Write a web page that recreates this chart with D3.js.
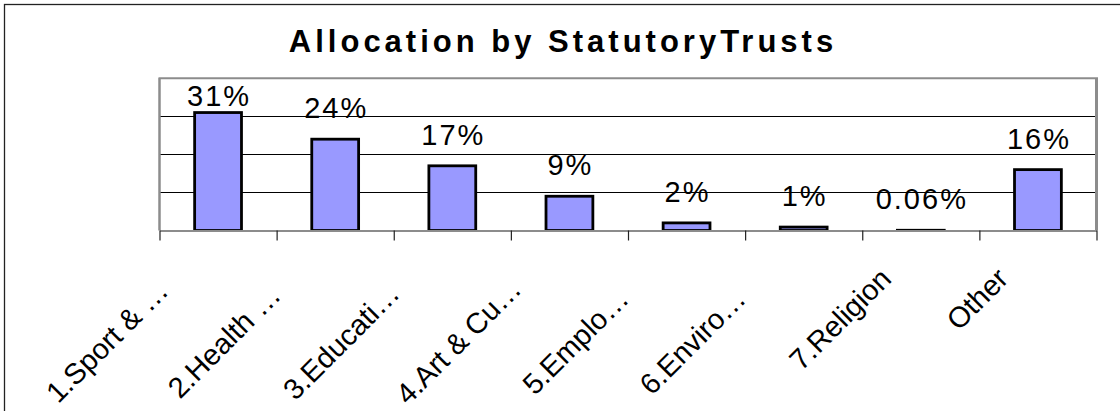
<!DOCTYPE html>
<html>
<head>
<meta charset="utf-8">
<script src="https://cdn.jsdelivr.net/npm/d3@7"></script>
<style>
  body { margin: 0; background: #fff; }
  svg { display: block; font-family: "Liberation Sans", Arial, sans-serif; }
</style>
</head>
<body>
<svg id="chart"></svg>
<script>
// chart data
const categories = ["1.Sport & …", "2.Health …", "3.Educati…", "4.Art & Cu…", "5.Emplo…", "6.Enviro…", "7.Religion", "Other"];
const values = [31, 24, 17, 9, 2, 0.9, 0.06, 16];
const valueLabels = ["31%", "24%", "17%", "9%", "2%", "1%", "0.06%", "16%"];
const yTicks = [0, 10, 20, 30, 40];

const width = 1120, height = 411;
const plot = { left: 159.5, right: 1096.5, top: 78.3, bottom: 230.5 };

const svg = d3.select("#chart")
    .attr("width", width)
    .attr("height", height);

// outer frame (right and bottom edges fall outside the picture)
svg.append("rect")
    .attr("x", 4.5)
    .attr("y", 4.5)
    .attr("width", width + 10)
    .attr("height", height + 10)
    .attr("fill", "none")
    .attr("stroke", "#222")
    .attr("stroke-width", 1.3);

// title
svg.append("text")
    .attr("x", 563)
    .attr("y", 52)
    .attr("text-anchor", "middle")
    .attr("font-size", 31)
    .attr("font-weight", "bold")
    .attr("letter-spacing", 4)
    .text("Allocation by StatutoryTrusts");

const x = d3.scaleBand()
    .domain(categories)
    .range([plot.left, plot.right])
    .paddingInner(0.6)
    .paddingOuter(0.3);

const y = d3.scaleLinear()
    .domain([0, 40])
    .range([plot.bottom, plot.top]);

// gridlines
svg.append("g")
    .selectAll("line")
    .data(yTicks.filter(d => d > 0 && d < 40))
    .enter().append("line")
    .attr("x1", plot.left)
    .attr("x2", plot.right)
    .attr("y1", d => Math.round(y(d)) + 0.5)
    .attr("y2", d => Math.round(y(d)) + 0.5)
    .attr("stroke", "#000")
    .attr("stroke-width", 1);

// plot border: top, left, right in grey
const border = svg.append("g")
    .attr("stroke", "#8c8c8c")
    .attr("fill", "none");
border.append("line")
    .attr("x1", plot.left - 1).attr("x2", plot.right + 1.5)
    .attr("y1", plot.top).attr("y2", plot.top)
    .attr("stroke-width", 2);
border.append("line")
    .attr("x1", plot.left).attr("x2", plot.left)
    .attr("y1", plot.top).attr("y2", plot.bottom)
    .attr("stroke-width", 2.5);
border.append("line")
    .attr("x1", plot.right).attr("x2", plot.right)
    .attr("y1", plot.top).attr("y2", plot.bottom)
    .attr("stroke-width", 3);

// bars
svg.append("g")
    .selectAll("rect")
    .data(values)
    .enter().append("rect")
    .attr("x", (d, i) => x(categories[i]))
    .attr("y", d => y(d))
    .attr("width", x.bandwidth())
    .attr("height", d => plot.bottom - y(d))
    .attr("fill", "#9999ff")
    .attr("stroke", "#000")
    .attr("stroke-width", 2.8);

// category axis, ticks sit between categories
const edgeScale = d3.scaleLinear()
    .domain([0, categories.length])
    .range([plot.left, plot.right]);

const xAxis = svg.append("g")
    .attr("transform", `translate(0,${plot.bottom})`)
    .call(d3.axisBottom(edgeScale)
        .ticks(categories.length)
        .tickSize(10)
        .tickSizeOuter(0)
        .tickFormat(""));
xAxis.select(".domain").attr("stroke", "#8c8c8c").attr("stroke-width", 2);
xAxis.selectAll(".tick line").attr("stroke", "#222").attr("stroke-width", 1.2);

// category labels, rotated; truncated ones are centred in their box,
// full ones are right-aligned under the category
const truncated = d => d.endsWith("…");
svg.append("g")
    .selectAll("text")
    .data(categories)
    .enter().append("text")
    .attr("transform", d => {
        const cx = x(d) + x.bandwidth() / 2;
        return truncated(d)
            ? `translate(${cx - 104},${plot.bottom + 118}) rotate(-45)`
            : `translate(${cx - 28},${plot.bottom + 50}) rotate(-45)`;
    })
    .attr("text-anchor", d => truncated(d) ? "middle" : "end")
    .attr("font-size", 29)
    .text(d => d);

// value labels
svg.append("g")
    .selectAll("text")
    .data(values)
    .enter().append("text")
    .attr("x", (d, i) => x(categories[i]) + x.bandwidth() / 2 + 1)
    .attr("y", d => Math.max(y(d) - 21, plot.top + 28))
    .attr("text-anchor", "middle")
    .attr("font-size", 29)
    .attr("letter-spacing", 2)
    .text((d, i) => valueLabels[i]);
</script>
</body>
</html>
